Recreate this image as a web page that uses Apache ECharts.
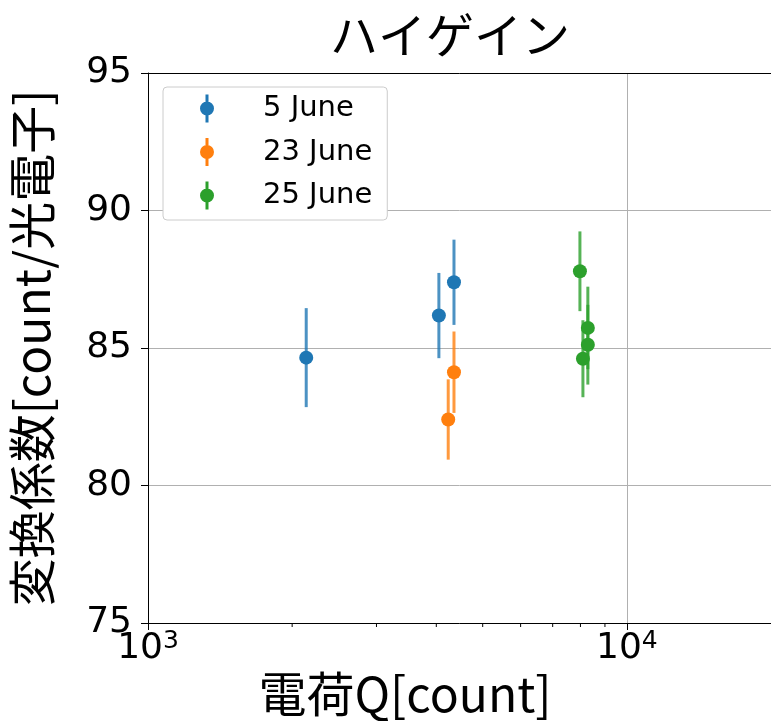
<!DOCTYPE html>
<html>
<head>
<meta charset="utf-8">
<script src="https://cdn.jsdelivr.net/npm/echarts@6/dist/echarts.min.js"></script>
<style>html,body{margin:0;padding:0;background:#fff}#c{width:771px;height:721px}</style>
</head>
<body>
<div id="c"></div>
<script>
// ---- data ----
const seriesNames = ['5 June', '23 June', '25 June'];
const blueX = [2140, 4050, 4355];
const blueY = [84.65, 86.18, 87.39];
const blueErr = [1.8, 1.55, 1.55];
const orangeX = [4236, 4355];
const orangeY = [82.4, 84.12];
const orangeErr = [1.46, 1.48];
const greenX = [7980, 8290, 8290, 8096];
const greenY = [87.79, 85.73, 85.12, 84.61];
const greenErr = [1.45, 1.5, 1.45, 1.4];
const xMinorTicks = [2000, 3000, 4000, 5000, 6000, 7000, 8000, 9000];
const yTicks = [75, 80, 85, 90, 95];

const colors = ['#1f77b4', '#ff7f0e', '#2ca02c'];
const groups = [[blueX, blueY, blueErr], [orangeX, orangeY, orangeErr], [greenX, greenY, greenErr]];

const legendIcon = 'path://M5.5,0 H8.5 V28 H5.5 Z M0,14 A7,7 0 1,1 14,14 A7,7 0 1,1 0,14 Z';

const series = [];
groups.forEach((g, i) => {
  const [xs, ys, es] = g;
  series.push({
    type: 'custom',
    name: seriesNames[i] + ' err',
    coordinateSystem: 'cartesian2d',
    data: xs.map((x, k) => [x, ys[k] - es[k], ys[k] + es[k]]),
    encode: { x: 0, y: [1, 2] },
    z: 2 + i * 2,
    silent: true,
    renderItem: function (params, api) {
      const lo = api.coord([api.value(0), api.value(1)]);
      const hi = api.coord([api.value(0), api.value(2)]);
      return {
        type: 'line',
        shape: { x1: lo[0], y1: lo[1], x2: hi[0], y2: hi[1] },
        style: { stroke: colors[i], lineWidth: 3, opacity: 0.8 }
      };
    }
  });
  series.push({
    type: 'scatter',
    name: seriesNames[i],
    data: xs.map((x, k) => [x, ys[k]]),
    symbol: 'circle',
    symbolSize: 14,
    itemStyle: { color: colors[i], opacity: 1 },
    z: 3 + i * 2
  });
});

// minor ticks on log x-axis
series.push({
  type: 'custom',
  name: 'minor',
  coordinateSystem: 'cartesian2d',
  data: xMinorTicks.map(v => [v, yTicks[0]]),
  clip: false,
  silent: true,
  z: 10,
  renderItem: function (params, api) {
    const p = api.coord([api.value(0), api.value(1)]);
    return {
      type: 'line',
      shape: { x1: p[0], y1: p[1], x2: p[0], y2: p[1] + 4 },
      style: { stroke: '#000', lineWidth: 1 }
    };
  }
});

const chart = echarts.init(document.getElementById('c'), null, { renderer: 'canvas' });
chart.setOption({
  backgroundColor: '#fff',
  animation: false,
  title: {
    text: 'ハイゲイン',
    left: 445,
    top: 6,
    textAlign: 'center',
    textStyle: { fontFamily: 'Noto Sans CJK JP', fontSize: 48, fontWeight: 'normal', color: '#000' }
  },
  grid: { left: 148, right: 0, top: 73, bottom: 98, containLabel: false },
  legend: {
    orient: 'vertical',
    left: 163,
    top: 87,
    data: seriesNames.map(n => ({ name: n, icon: legendIcon })),
    itemWidth: 14,
    itemHeight: 28,
    itemGap: 14.5,
    padding: [7, 15, 10, 37],
    backgroundColor: '#fff',
    borderColor: '#cccccc',
    borderWidth: 1,
    borderRadius: 4,
    textStyle: { fontFamily: 'DejaVu Sans', fontSize: 29, color: '#000', padding: [0, 0, 0, 44] }
  },
  xAxis: [{
    type: 'log',
    logBase: 10,
    min: 1000,
    max: 20000,
    axisLine: { show: true, lineStyle: { color: '#000', width: 1 } },
    axisTick: { show: true, length: 7, lineStyle: { color: '#000' } },
    axisLabel: {
      margin: 6,
      showMaxLabel: false,
      formatter: function (v) {
        const e = Math.log10(v);
        if (Math.abs(e - Math.round(e)) > 1e-6) return '';
        return '{b|10}{s|' + Math.round(e) + '}';
      },
      rich: {
        b: { fontFamily: 'DejaVu Sans', fontSize: 36, color: '#000' },
        s: { fontFamily: 'DejaVu Sans', fontSize: 25, color: '#000', verticalAlign: 'top', padding: [0, 0, 14, 0] }
      }
    },
    splitLine: { show: true, lineStyle: { color: '#b0b0b0', width: 1 } }
  }, {
    type: 'log',
    logBase: 10,
    min: 1000,
    max: 20000,
    position: 'top',
    axisLine: { show: true, lineStyle: { color: '#000', width: 1 } },
    axisTick: { show: false },
    axisLabel: { show: false },
    splitLine: { show: false }
  }],
  yAxis: {
    type: 'value',
    min: yTicks[0],
    max: yTicks[yTicks.length - 1],
    interval: 5,
    name: '変換係数[count/光電子]',
    nameLocation: 'middle',
    nameRotate: 90,
    nameGap: 92,
    nameTextStyle: { fontFamily: 'Noto Sans CJK JP', fontSize: 48, color: '#000' },
    axisLine: { show: true, lineStyle: { color: '#000', width: 1 } },
    axisTick: { show: true, length: 7, lineStyle: { color: '#000' } },
    axisLabel: { margin: 16, fontFamily: 'DejaVu Sans', fontSize: 36, color: '#000' },
    splitLine: { show: true, lineStyle: { color: '#b0b0b0', width: 1 } }
  },
  graphic: [{
    type: 'text',
    x: 405,
    y: 694,
    style: {
      text: '電荷Q[count]',
      fontFamily: 'Noto Sans CJK JP',
      fontSize: 48,
      fill: '#000',
      textAlign: 'center',
      textVerticalAlign: 'middle'
    }
  }],
  series: series
});
</script>
</body>
</html>
